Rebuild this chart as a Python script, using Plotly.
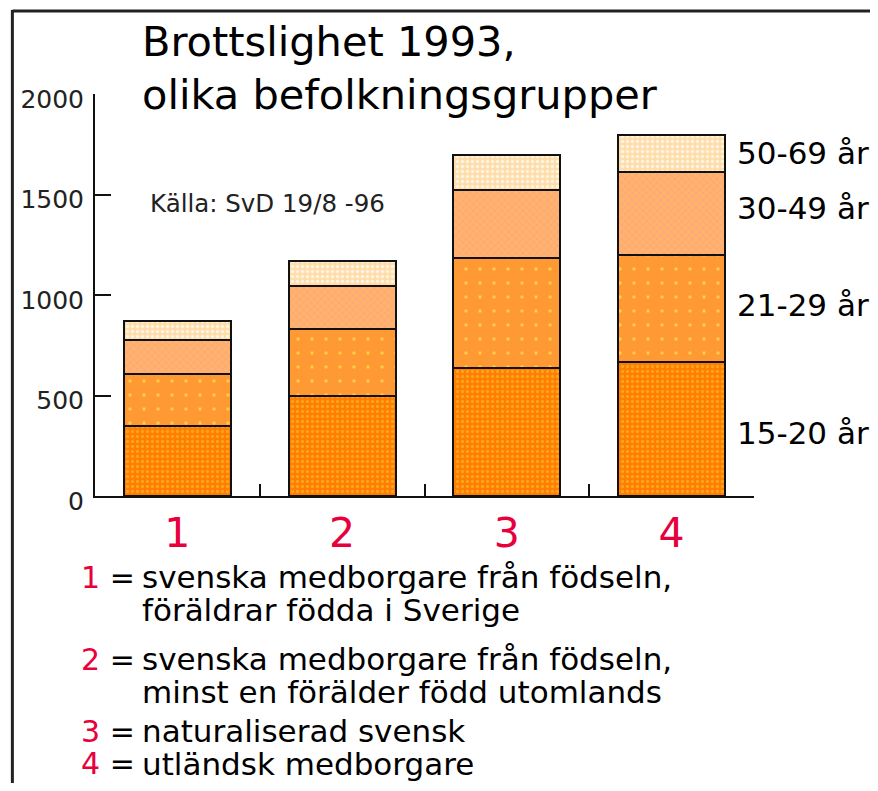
import plotly.graph_objects as go

# ---- data ----
categories = ["1", "2", "3", "4"]
age_groups = ["15-20 år", "21-29 år", "30-49 år", "50-69 år"]
v_15_20 = [350, 497, 638, 665]
v_21_29 = [255, 332, 545, 533]
v_30_49 = [171, 217, 339, 415]
v_50_69 = [96, 125, 175, 183]
series_values = [v_15_20, v_21_29, v_30_49, v_50_69]
y_ticks = [0, 500, 1000, 1500, 2000]
y_tick_labels = ["0", "500", "1000", "1500", "2000"]

title_lines = ["Brottslighet 1993,", "olika befolkningsgrupper"]
source_text = "Källa: SvD 19/8 -96"
legend_items = [
    ("1", ["svenska medborgare från födseln,", "föräldrar födda i Sverige"]),
    ("2", ["svenska medborgare från födseln,", "minst en förälder född utomlands"]),
    ("3", ["naturaliserad svensk"]),
    ("4", ["utländsk medborgare"]),
]

# ---- styles ----
OFF = 8  # page body margin
W, H = 862, 775
L, R, T, B = 92 - OFF, 754 - OFF, 94 - OFF, 496 - OFF  # plot area in figure pixels
FONT = "DejaVu Sans"
RED = "#e8003d"
fills = [
    dict(bg="#ff7d00", fg="#ffa31a", shape=".", size=5, solidity=0.35),
    dict(bg="#ff9933", fg="#ffcc44", shape=".", size=14, solidity=0.05),
    dict(bg="#ffb46c", fg="#ff9c85", shape="x", size=5, solidity=0.25),
    dict(bg="#ffddaa", fg="#fff4e0", shape=".", size=5, solidity=0.35),
]


def px2x(px):
    # px given in page (reference) pixels
    return (px - OFF - L) / (R - L)


def py2y(py):
    return (B - (py - OFF)) / (B - T)


fig = go.Figure()
for name, vals, f in zip(age_groups, series_values, fills):
    fig.add_trace(go.Bar(
        x=categories, y=vals, name=name, width=0.65,
        marker=dict(
            color=f["bg"],
            line=dict(color="#111111", width=2),
            pattern=dict(shape=f["shape"], fgcolor=f["fg"], bgcolor=f["bg"],
                         size=f["size"], solidity=f["solidity"], fillmode="replace"),
        ),
        hoverinfo="x+y+name",
        showlegend=False,
    ))

ann = []
# title
for txt, ty in zip(title_lines, [41, 94]):
    ann.append(dict(text=txt, x=px2x(137), y=py2y(ty), xref="paper", yref="paper",
                    xanchor="left", yanchor="middle", showarrow=False,
                    font=dict(family=FONT, size=41.5, color="#000")))
# source
ann.append(dict(text=source_text, x=px2x(145), y=py2y(203), xref="paper", yref="paper",
                xanchor="left", yanchor="middle", showarrow=False,
                font=dict(family=FONT, size=24.5, color="#222")))
# right-side labels for segments
label_y = [433, 305, 208, 153]
for name, ly in zip(age_groups, label_y):
    ann.append(dict(text=name, x=px2x(735), y=py2y(ly), xref="paper", yref="paper",
                    xanchor="left", yanchor="middle", showarrow=False,
                    font=dict(family=FONT, size=31, color="#000")))
# legend text at bottom
line_y = [[577, 610], [659, 692], [731], [764]]
for (num, lines), ys in zip(legend_items, line_y):
    ann.append(dict(text=f"<span style='color:{RED}'>{num}</span> =",
                    x=px2x(134), y=py2y(ys[0]), xref="paper", yref="paper",
                    xanchor="right", yanchor="middle", showarrow=False,
                    font=dict(family=FONT, size=30, color="#000")))
    for t, yy in zip(lines, ys):
        ann.append(dict(text=t, x=px2x(137), y=py2y(yy), xref="paper", yref="paper",
                        xanchor="left", yanchor="middle", showarrow=False,
                        font=dict(family=FONT, size=31, color="#000")))

shapes = [
    dict(type="line", xref="paper", yref="paper", x0=px2x(9), x1=px2x(900),
         y0=py2y(11), y1=py2y(11), line=dict(color="#222", width=3)),
    dict(type="line", xref="paper", yref="paper", x0=px2x(9), x1=px2x(9),
         y0=py2y(10), y1=py2y(820), line=dict(color="#222", width=3)),
]

fig.update_layout(
    width=W, height=H,
    margin=dict(l=L, r=W - R, t=T, b=H - B, pad=0),
    barmode="stack",
    paper_bgcolor="white", plot_bgcolor="white",
    annotations=ann, shapes=shapes,
    showlegend=False,
    xaxis=dict(type="category", range=[-0.5, 3.5], showline=True, linecolor="#111",
               linewidth=2, ticks="inside", tickson="boundaries", ticklen=12,
               tickwidth=2, tickcolor="#111", showgrid=False, zeroline=False,
               tickfont=dict(family=FONT, size=41, color=RED)),
    yaxis=dict(range=[0, 2000], tickvals=y_ticks, ticktext=y_tick_labels,
               showline=True, linecolor="#111", linewidth=2, ticks="inside",
               ticklen=16, tickwidth=2, tickcolor="#111", showgrid=False,
               zeroline=False, ticklabelstandoff=4, ticklabelshift=5,
               tickfont=dict(family=FONT, size=25, color="#222")),
)

fig.write_html("out.html")
